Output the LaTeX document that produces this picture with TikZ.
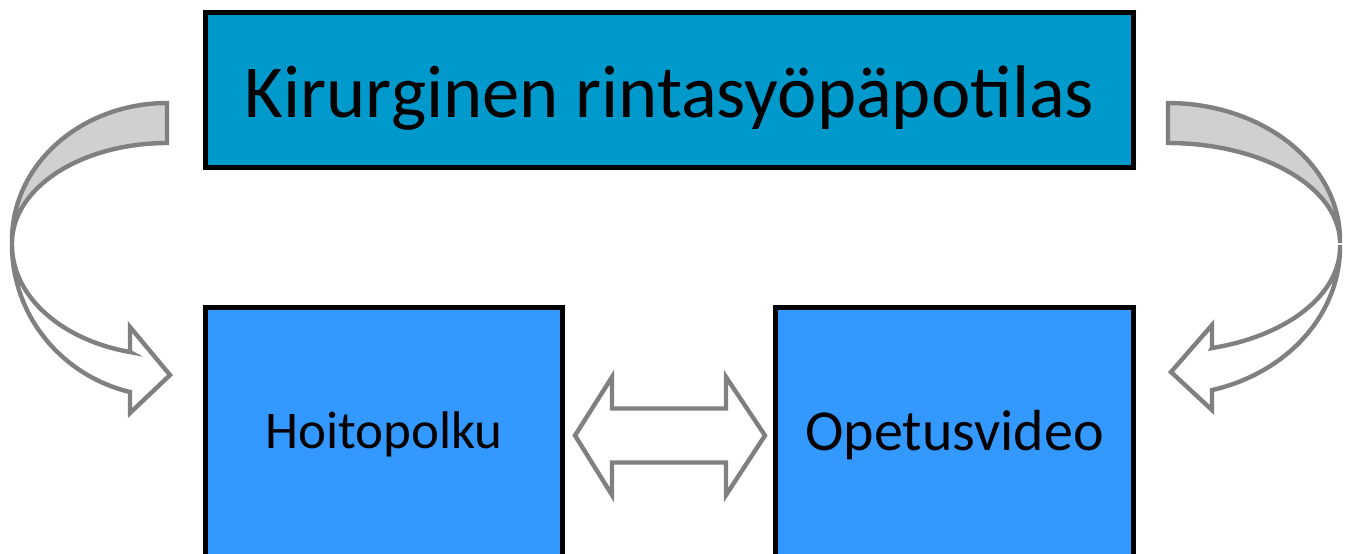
\documentclass[tikz,border=0pt]{standalone}
\usepackage{fontspec}
\setmainfont{Carlito}
\definecolor{topblue}{RGB}{0,153,204}
\definecolor{boxblue}{RGB}{51,153,255}
\definecolor{arrgray}{RGB}{128,128,128}
\definecolor{bandgray}{RGB}{208,208,208}
\tikzset{
  bluebox/.style={draw=black, line width=2.5pt, inner sep=0pt, rectangle},
  blockarrow/.style={draw=arrgray, line width=2.2pt, line join=miter, miter limit=10},
  backband/.style={blockarrow, fill=bandgray},
  frontband/.style={blockarrow, fill=white},
  lbl/.style={anchor=base, inner sep=0pt, text=black}
}
\begin{document}
\begin{tikzpicture}[x=0.5pt, y=-0.5pt]
\useasboundingbox (0,0) rectangle (1352,553);
\clip (0,0) rectangle (1352,553);
\fill[white] (0,0) rectangle (1352,553);

% boxes
\node[bluebox, fill=topblue, minimum width=464pt, minimum height=77.5pt] (top) at (669.5,90) {};
\node[lbl, font=\fontsize{37.3}{40}\selectfont] (toptxt) at (669.5,117) {Kirurginen rintasyöpäpotilas};
\node[bluebox, fill=boxblue, minimum width=178.5pt, minimum height=124.5pt] (left) at (384,432) {};
\node[lbl, font=\fontsize{26.5}{28}\selectfont] (lefttxt) at (384,448) {Hoitopolku};
\node[bluebox, fill=boxblue, minimum width=179pt, minimum height=124.5pt] (right) at (954.5,432) {};
\node[lbl, font=\fontsize{29}{31}\selectfont] (righttxt) at (954.5,450) {Opetusvideo};

% double arrow between the lower boxes
\draw[frontband] (575,435.5) -- (612,377) -- (612,408.5) -- (726,408.5) -- (726,377)
  -- (765,435.5) -- (726,495) -- (726,462.5) -- (612,462.5) -- (612,495) -- cycle;

% left curved arrow: front (white) part
\draw[frontband] plot[domain=180:103.8, samples=50, variable=\t] ({167+155*cos(\t)},{245+151.4*sin(\t)})
  -- (130,413) -- (170,375) -- (130,327) -- (130,352)
  -- plot[domain=103.8:180, samples=50, variable=\t] ({167+155*cos(\t)},{245+110.2*sin(\t)}) -- cycle;
% left curved arrow: back (grey) part
\draw[backband] plot[domain=270:180, samples=50, variable=\t] ({167+155*cos(\t)},{240+137*sin(\t)})
  -- plot[domain=180:270, samples=50, variable=\t] ({167+155*cos(\t)},{243+100*sin(\t)}) -- cycle;

% right curved arrow: front (white) part
\draw[frontband] plot[domain=0:75.18, samples=50, variable=\t] ({1168+172*cos(\t)},{247+148*sin(\t)})
  -- (1212,410) -- (1171,372) -- (1212,325) -- (1212,348)
  -- plot[domain=75.18:0, samples=50, variable=\t] ({1168+172*cos(\t)},{247+104.5*sin(\t)}) -- cycle;
% right curved arrow: back (grey) part
\draw[backband] plot[domain=270:360, samples=50, variable=\t] ({1168+172*cos(\t)},{240+137*sin(\t)})
  -- plot[domain=360:270, samples=50, variable=\t] ({1168+172*cos(\t)},{243+100*sin(\t)}) -- cycle;
\end{tikzpicture}
\end{document}
